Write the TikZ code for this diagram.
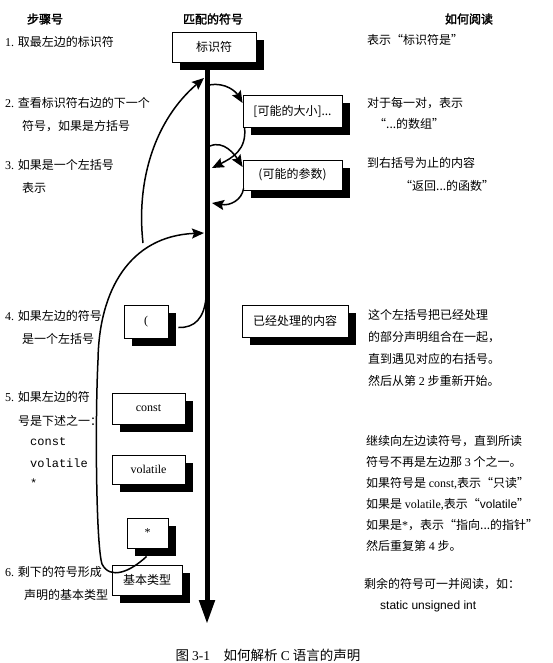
\documentclass[tikz,border=0pt]{standalone}
\usepackage{fontspec}
\setmainfont{Noto Sans CJK SC}[AutoFakeBold=2]
\newfontfamily\ser{Liberation Serif}
\newfontfamily\mon{Liberation Mono}
\newfontfamily\san{Liberation Sans}
\usetikzlibrary{arrows.meta,backgrounds}
\tikzset{
  box/.style={draw, line width=0.9pt, fill=white, inner sep=0pt},
  shad/.style={fill=black},
  txt/.style={anchor=west, inner sep=0pt},
  hdr/.style={inner sep=0pt, font=\fontsize{12}{14}\selectfont\bfseries},
  conn/.style={line width=1.5pt, -{Stealth[length=12pt, width=10pt, inset=2pt]}},
  plain/.style={line width=1.5pt},
  spine/.style={line width=5pt, -{Triangle[length=24pt, width=15pt]}}
}
\newcommand\shadowof[1]{\fill[shad] ([xshift=8pt,yshift=-8pt]#1.north west) rectangle ([xshift=8pt,yshift=-8pt]#1.south east);}
\begin{document}
\begin{tikzpicture}[x=1pt, y=-1pt, font=\fontsize{12}{14}\selectfont]
\useasboundingbox (0,0) rectangle (553,663);

% headers
\node[hdr] (h1) at (45,19) {步骤号};
\node[hdr] (h2) at (213,19) {匹配的符号};
\node[hdr] (h3) at (469,19) {如何阅读};

% boxes
\node[box, minimum width=84pt, minimum height=30pt] (b1) at (214,47) {标识符};
\node[box, minimum width=99pt, minimum height=32pt] (b2) at (292.5,111) {[可能的大小]...};
\node[box, minimum width=99pt, minimum height=30pt] (b3) at (292.5,175) {(可能的参数)};
\node[box, minimum width=44pt, minimum height=33pt] (b4) at (146,321.5) {\ser (};
\node[box, minimum width=106pt, minimum height=32pt] (b5) at (295,321) {已经处理的内容};
\node[box, minimum width=73pt, minimum height=31pt] (b6) at (148.5,408.5) {\ser const};
\node[box, minimum width=73pt, minimum height=29pt] (b7) at (148.5,469.5) {\ser volatile};
\node[box, minimum width=41pt, minimum height=30pt] (b8) at (147.5,533) {\ser *};
\node[box, minimum width=70pt, minimum height=30pt] (b9) at (147,580) {基本类型};

\begin{scope}[on background layer]
  \fill[white] (0,0) rectangle (553,663);
  \shadowof{b1}\shadowof{b2}\shadowof{b3}\shadowof{b4}\shadowof{b5}
  \shadowof{b6}\shadowof{b7}\shadowof{b8}\shadowof{b9}
\end{scope}

% spine
\coordinate (sp0) at (207,62);
\coordinate (sp9) at (207,624);
\draw[spine] (sp0) -- (sp9);

% spine points
\coordinate (s1) at (209,85);
\coordinate (s2) at (212,168);
\coordinate (s3) at (210,146);
\coordinate (s4) at (212,203);
\coordinate (s5) at (204,78);
\coordinate (s6) at (204,233);
\coordinate (s7) at (206,298);
\coordinate (e0) at (143,243);

% connectors
\draw[conn] (s1) .. controls (226,82) and (236,92) .. ([yshift=8pt]b2.west);
\draw[conn] ([xshift=2pt]b2.south west) .. controls (247,150) and (232,158) .. (s2);
\draw[conn] (s3) .. controls (224,140) and (235,155) .. ([yshift=8pt]b3.west);
\draw[conn] ([xshift=1pt,yshift=2pt]b3.south west) .. controls (242,200) and (230,206) .. (s4);
\draw[conn] (e0) .. controls (136,180) and (155,120) .. (s5);
\draw[conn] ([xshift=20pt,yshift=-8pt]b8.south west) .. controls (130,572) and (110,580) .. (102,564)
  .. controls (96,545) and (95,420) .. (98,360)
  .. controls (99,290) and (130,236) .. (s6);
\draw[plain] ([xshift=10pt,yshift=-6pt]b4.east) .. controls (195,328) and (204,318) .. (s7);

% left column
\node[txt] (l1) at (5,42) {{\ser 1.} 取最左边的标识符};
\node[txt] (l2a) at (5,103) {{\ser 2.} 查看标识符右边的下一个};
\node[txt] (l2b) at (22,126) {符号，如果是方括号};
\node[txt] (l3a) at (5,165) {{\ser 3.} 如果是一个左括号};
\node[txt] (l3b) at (22,188) {表示};
\node[txt] (l4a) at (5,316) {{\ser 4.} 如果左边的符号};
\node[txt] (l4b) at (22,339) {是一个左括号};
\node[txt] (l5a) at (5,397) {{\ser 5.} 如果左边的符};
\node[txt] (l5b) at (18,421) {号是下述之一：};
\node[txt] (l5c) at (30,442) {\mon const};
\node[txt] (l5d) at (30,463) {\mon volatile};
\node[txt] (l5e) at (30,483) {\mon *};
\node[txt] (l6a) at (5,572) {{\ser 6.} 剩下的符号形成};
\node[txt] (l6b) at (24,595) {声明的基本类型};

% right column
\node[txt] (r1) at (367,40) {表示“标识符是”};
\node[txt] (r2a) at (367,103) {对于每一对，表示};
\node[txt] (r2b) at (374,124) {“...的数组”};
\node[txt] (r3a) at (367,163) {到右括号为止的内容};
\node[txt] (r3b) at (400,186) {“返回...的函数”};
\node[txt] (r4a) at (368,315) {这个左括号把已经处理};
\node[txt] (r4b) at (368,337) {的部分声明组合在一起，};
\node[txt] (r4c) at (368,359) {直到遇见对应的右括号。};
\node[txt] (r4d) at (368,381) {然后从第 {\ser 2} 步重新开始。};
\node[txt] (r5a) at (366,441) {继续向左边读符号，直到所读};
\node[txt] (r5b) at (366,462) {符号不再是左边那 {\ser 3} 个之一。};
\node[txt] (r5c) at (366,483) {如果符号是 {\ser const,}表示“只读”};
\node[txt] (r5d) at (366,504) {如果是 {\ser volatile,}表示“{\san volatile}”};
\node[txt] (r5e) at (366,525) {如果是{\ser *}，表示“指向...的指针”};
\node[txt] (r5f) at (366,546) {然后重复第 {\ser 4} 步。};
\node[txt] (r6a) at (364,584) {剩余的符号可一并阅读，如：};
\node[txt] (r6b) at (380,606) {\san static unsigned int};

% caption
\node[inner sep=0pt, font=\fontsize{13.5}{15}\selectfont] (cap) at (268,655) {图 {\ser 3-1}\quad 如何解析 {\ser C} 语言的声明};
\end{tikzpicture}
\end{document}
